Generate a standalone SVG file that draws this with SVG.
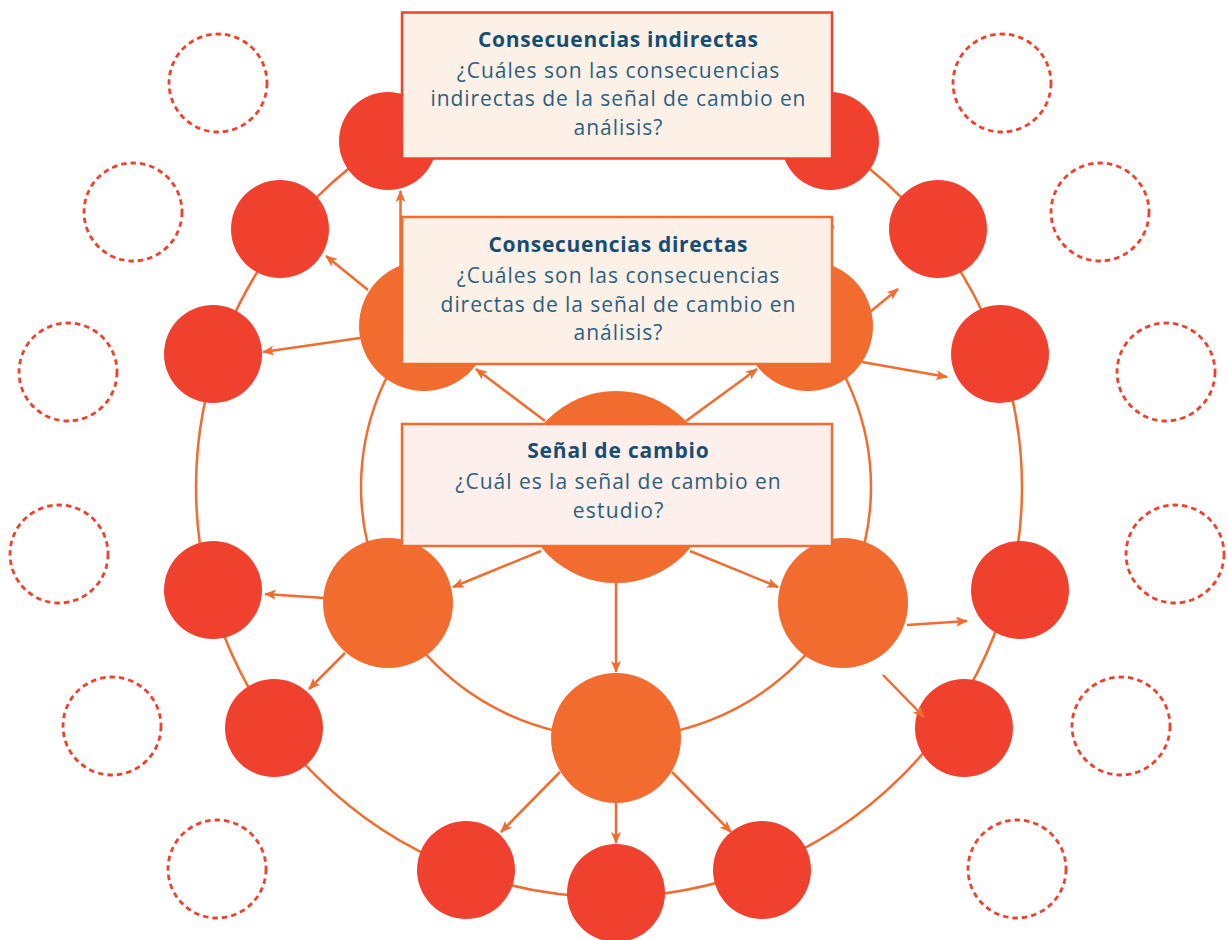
<svg xmlns="http://www.w3.org/2000/svg" width="1228" height="940" viewBox="0 0 1228 940">
<defs>
<style>
.ring{fill:none;stroke:#F26B2F;stroke-width:2.5}
.red{fill:#F0412E}
.org{fill:#F26B2F}
.dash{fill:none;stroke:#F0412E;stroke-width:2.8;stroke-dasharray:5.5 4}
.arr{stroke:#F26B2F;stroke-width:2.5;fill:none;marker-end:url(#ah)}
.box{fill:#FDF0E6;stroke:#F26B2F;stroke-width:2.5}
.t{font-family:"Open Sans","Liberation Sans",sans-serif;font-size:21px;text-anchor:middle}
.tt{font-weight:700;fill:#164D73}
.tb{fill:#2A6080}
</style>
<marker id="ah" viewBox="0 0 12 10" refX="11" refY="5" markerWidth="12" markerHeight="10" markerUnits="userSpaceOnUse" orient="auto">
<path d="M0,0 L12,5 L0,10 L3,5 Z" fill="#F26B2F"/>
</marker>
</defs>
<rect width="1228" height="940" fill="#FFFFFF"/>
<g id="rings">
<ellipse class="ring" cx="609" cy="487" rx="413" ry="410"/>
<ellipse class="ring" cx="616" cy="487" rx="255" ry="251"/>
</g>
<g id="dashed-left">
<circle class="dash" cx="218" cy="83" r="49"/>
<circle class="dash" cx="133" cy="212" r="49"/>
<circle class="dash" cx="68" cy="372" r="49"/>
<circle class="dash" cx="59" cy="554" r="49"/>
<circle class="dash" cx="112" cy="726" r="49"/>
<circle class="dash" cx="217" cy="869" r="49"/>
</g>
<g id="dashed-right">
<circle class="dash" cx="1002" cy="83" r="49"/>
<circle class="dash" cx="1100" cy="212" r="49"/>
<circle class="dash" cx="1166" cy="372" r="49"/>
<circle class="dash" cx="1175" cy="554" r="49"/>
<circle class="dash" cx="1121" cy="726" r="49"/>
<circle class="dash" cx="1017" cy="869" r="49"/>
</g>
<g id="outer-nodes">
<circle class="red" cx="388" cy="141" r="49"/>
<circle class="red" cx="280" cy="229" r="49"/>
<circle class="red" cx="213" cy="354" r="49"/>
<circle class="red" cx="213" cy="590" r="49"/>
<circle class="red" cx="274" cy="728" r="49"/>
<circle class="red" cx="466" cy="870" r="49"/>
<circle class="red" cx="616" cy="893" r="49"/>
<circle class="red" cx="762" cy="870" r="49"/>
<circle class="red" cx="964" cy="728" r="49"/>
<circle class="red" cx="1020" cy="590" r="49"/>
<circle class="red" cx="1000" cy="354" r="49"/>
<circle class="red" cx="938" cy="229" r="49"/>
<circle class="red" cx="830" cy="141" r="49"/>
</g>
<g id="inner-nodes">
<circle class="org" cx="424" cy="326" r="65"/>
<circle class="org" cx="808" cy="326" r="65"/>
<circle class="org" cx="388" cy="603" r="65"/>
<circle class="org" cx="843" cy="603" r="65"/>
<circle class="org" cx="616" cy="738" r="65"/>
</g>
<g id="center-node">
<circle class="org" cx="616" cy="487" r="96"/>
</g>
<g id="connectors">
<line class="arr" x1="545" y1="421" x2="476" y2="369"/>
<line class="arr" x1="686" y1="421" x2="757" y2="369"/>
<line class="arr" x1="541" y1="551" x2="453" y2="587"/>
<line class="arr" x1="690" y1="551" x2="778" y2="587"/>
<line class="arr" x1="616" y1="583" x2="616" y2="672"/>
<line class="arr" x1="368" y1="290" x2="326" y2="256"/>
<line class="arr" x1="360" y1="338" x2="263" y2="352"/>
<line class="arr" x1="400.5" y1="266" x2="400.5" y2="191"/>
<line class="arr" x1="830" y1="266" x2="830" y2="218"/>
<line class="arr" x1="870" y1="312" x2="898" y2="289"/>
<line class="arr" x1="862" y1="362" x2="947" y2="377"/>
<line class="arr" x1="324" y1="598" x2="265" y2="594"/>
<line class="arr" x1="345" y1="653" x2="309" y2="689"/>
<line class="arr" x1="907" y1="625" x2="967" y2="621"/>
<line class="arr" x1="883" y1="675" x2="924" y2="717"/>
<line class="arr" x1="560" y1="772" x2="501" y2="832"/>
<line class="arr" x1="616" y1="803" x2="616" y2="843"/>
<line class="arr" x1="672" y1="772" x2="731" y2="832"/>
</g>
<g id="box-indirectas">
<rect class="box" x="402" y="12.5" width="430" height="146" style="stroke:#F0412E"/>
<text class="t tt" x="618" y="46.7" textLength="280" lengthAdjust="spacing">Consecuencias indirectas</text>
<text class="t tb" x="618" y="77.7" textLength="322.6" lengthAdjust="spacing">¿Cuáles son las consecuencias</text>
<text class="t tb" x="618" y="106.3" textLength="375" lengthAdjust="spacing">indirectas de la señal de cambio en</text>
<text class="t tb" x="618" y="135" textLength="88.8" lengthAdjust="spacing">análisis?</text>
</g>
<g id="box-directas">
<rect class="box" x="402" y="217" width="430" height="147"/>
<text class="t tt" x="618" y="251.7" textLength="259" lengthAdjust="spacing">Consecuencias directas</text>
<text class="t tb" x="618" y="282.5" textLength="322.6" lengthAdjust="spacing">¿Cuáles son las consecuencias</text>
<text class="t tb" x="618" y="311.5" textLength="354.8" lengthAdjust="spacing">directas de la señal de cambio en</text>
<text class="t tb" x="618" y="340" textLength="88.8" lengthAdjust="spacing">análisis?</text>
</g>
<g id="box-senal">
<rect class="box" x="402" y="424" width="430" height="122" style="fill:#FDEFEB"/>
<text class="t tt" x="618" y="458.3" textLength="181.6" lengthAdjust="spacing">Señal de cambio</text>
<text class="t tb" x="618" y="489" textLength="325.3" lengthAdjust="spacing">¿Cuál es la señal de cambio en</text>
<text class="t tb" x="618" y="517.7" textLength="90.6" lengthAdjust="spacing">estudio?</text>
</g>
</svg>
